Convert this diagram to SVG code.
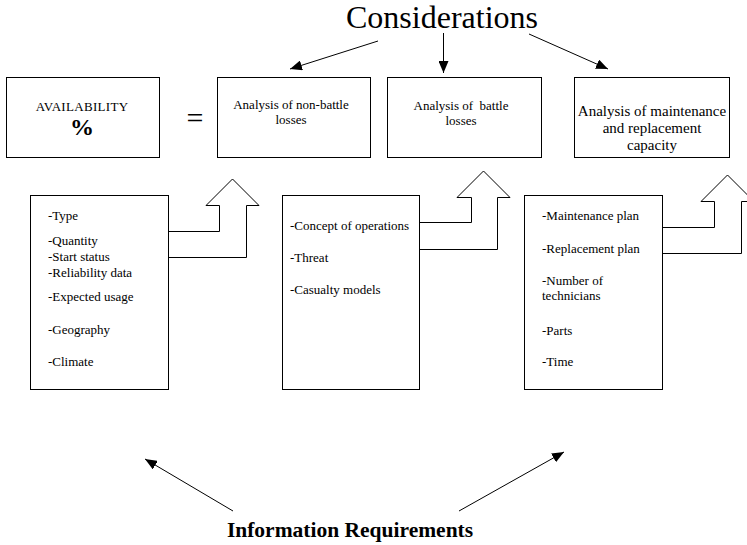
<svg xmlns="http://www.w3.org/2000/svg" width="747" height="545" viewBox="0 0 747 545">
  <style>
    text { font-family: "Liberation Serif", "Times New Roman", serif; fill: #000; }
    .box { fill: #fff; stroke: #000; stroke-width: 1; }
    .big { fill: none; stroke: #000; stroke-width: 1; stroke-linejoin: miter; }
    .link { fill: none; stroke: #000; stroke-width: 1; }
    .cap { font-size: 13px; text-anchor: middle; }
    .cap15 { font-size: 15px; text-anchor: middle; }
    .item { font-size: 13px; }
  </style>
  <defs>
    <marker id="tip" viewBox="0 0 12 10" refX="12" refY="5" markerWidth="12" markerHeight="10" markerUnits="userSpaceOnUse" orient="auto">
      <path d="M0,0 L12,5 L0,10 Z" fill="#000"/>
    </marker>
  </defs>

  <rect width="747" height="545" fill="#fff"/>

  <!-- headings -->
  <text id="considerations" x="442" y="28" font-size="32" text-anchor="middle">Considerations</text>
  <text id="info-req" x="350" y="537" font-size="21.5" font-weight="bold" text-anchor="middle">Information Requirements</text>

  <!-- availability -->
  <g id="availability">
    <rect class="box" x="6.5" y="77.5" width="153" height="80"/>
    <text x="82" y="111" font-size="13" text-anchor="middle" letter-spacing="0.3">AVAILABILITY</text>
    <text x="82" y="135" font-size="24" font-weight="bold" text-anchor="middle">%</text>
  </g>
  <text id="equals" x="195" y="128" font-size="30" text-anchor="middle">=</text>

  <!-- analysis boxes -->
  <g id="non-battle">
    <rect class="box" x="217.5" y="77.5" width="153" height="80"/>
    <text class="cap" x="291" y="109">Analysis of non-battle</text>
    <text class="cap" x="291" y="124">losses</text>
  </g>
  <g id="battle">
    <rect class="box" x="387.5" y="77.5" width="154" height="80"/>
    <text class="cap" x="461" y="110">Analysis of&#160; battle</text>
    <text class="cap" x="461" y="125">losses</text>
  </g>
  <g id="maintenance">
    <rect class="box" x="574.5" y="77.5" width="155" height="80"/>
    <text class="cap15" x="652" y="116">Analysis of maintenance</text>
    <text class="cap15" x="652" y="133">and replacement</text>
    <text class="cap15" x="652" y="150">capacity</text>
  </g>

  <!-- information lists -->
  <g id="list-nonbattle">
    <rect class="box" x="30.5" y="195.5" width="138" height="194"/>
    <text class="item" x="48" y="220">-Type</text>
    <text class="item" x="48" y="245">-Quantity</text>
    <text class="item" x="48" y="261">-Start status</text>
    <text class="item" x="48" y="277">-Reliability data</text>
    <text class="item" x="48" y="301">-Expected usage</text>
    <text class="item" x="48" y="334">-Geography</text>
    <text class="item" x="48" y="366">-Climate</text>
  </g>
  <g id="list-battle">
    <rect class="box" x="282.5" y="195.5" width="137" height="194"/>
    <text class="item" x="290" y="230">-Concept of operations</text>
    <text class="item" x="290" y="262">-Threat</text>
    <text class="item" x="290" y="294">-Casualty models</text>
  </g>
  <g id="list-maintenance">
    <rect class="box" x="524.5" y="195.5" width="138" height="194"/>
    <text class="item" x="542" y="220">-Maintenance plan</text>
    <text class="item" x="542" y="253">-Replacement plan</text>
    <text class="item" x="542" y="285">-Number of</text>
    <text class="item" x="542" y="300">technicians</text>
    <text class="item" x="542" y="335">-Parts</text>
    <text class="item" x="542" y="366">-Time</text>
  </g>

  <!-- connectors -->
  <g id="connectors">
    <polyline class="big" points="168.5,231.5 219.5,231.5 219.5,205.5 206,205.5 232.5,179 259,205.5 246.5,205.5 246.5,257.5 168.5,257.5"/>
    <polyline class="big" points="419.5,222.5 471.5,222.5 471.5,197.5 457,197.5 483.5,171 510,197.5 497.5,197.5 497.5,249.5 419.5,249.5"/>
    <polyline class="big" points="662.5,227.5 714.5,227.5 714.5,201.5 701,201.5 727.5,175 754,201.5 741.5,201.5 741.5,253.5 662.5,253.5"/>

    <line class="link" x1="378" y1="41" x2="290" y2="69" marker-end="url(#tip)"/>
    <line class="link" x1="443.5" y1="33" x2="443.5" y2="73" marker-end="url(#tip)"/>
    <line class="link" x1="529" y1="34" x2="608" y2="69" marker-end="url(#tip)"/>

    <line class="link" x1="233" y1="511" x2="145" y2="459" marker-end="url(#tip)"/>
    <line class="link" x1="459" y1="511" x2="564" y2="452" marker-end="url(#tip)"/>
  </g>
</svg>
